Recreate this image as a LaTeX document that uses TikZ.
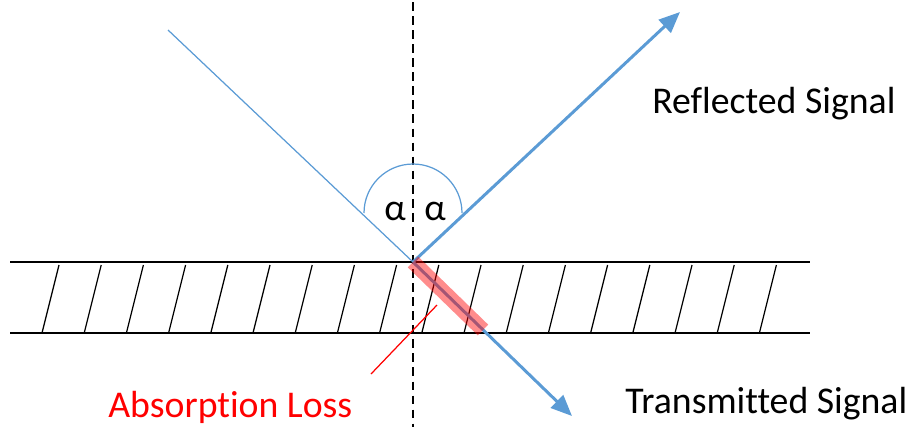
\documentclass[tikz,border=0pt]{standalone}
\usepackage{fontspec}
\setmainfont{Carlito}[Ligatures=NoCommon]
\usetikzlibrary{arrows.meta}
\definecolor{rayblue}{HTML}{5B9BD5}
\tikzset{
    label text/.style={inner sep=0pt, anchor=base west, font=\fontsize{21.5}{26}\selectfont},
    ray/.style={rayblue, line width=1.7pt, -{Triangle[length=12pt,width=10pt]}}
}
\begin{document}
\begin{tikzpicture}[x=0.02cm, y=-0.02cm]
    % Picture frame in pixel units
    \useasboundingbox (0,0) rectangle (911,427);
    \def\slabtop{262}
    \def\slabbot{333}

    % Points of the rays
    \coordinate (src) at (168,30);
    \coordinate (hit) at (413,\slabtop);
    \coordinate (refl) at (680,12);
    \coordinate (trans) at (572,416);
    \coordinate (absend) at (483,330);

    % Material slab with hatching
    \draw[line width=0.8pt] (10,\slabtop) -- (810,\slabtop);
    \draw[line width=0.8pt] (10,\slabbot) -- (810,\slabbot);
    \foreach \i in {0,...,17}
        \draw[line width=0.7pt] (42+42.2*\i,\slabbot) -- (59+42.2*\i,265);

    % Normal
    \draw[dashed, line width=0.8pt, dash pattern=on 5pt off 3pt] (413,2) -- (413,427);

    % Incident, reflected and transmitted rays
    \draw[rayblue, line width=0.7pt] (src) -- (hit);
    \draw[ray] (hit) -- (refl);
    \draw[ray] (hit) -- (trans);

    % Absorption inside the slab
    \draw[red, opacity=0.45, line width=8.5pt] (hit) -- (absend);

    % Angle arc and labels
    \draw[rayblue, line width=0.7pt] (364,213) arc[start angle=180, end angle=360, radius=49];
    \node[label text, anchor=base] (alphaL) at (395,220) {α};
    \node[label text, anchor=base] (alphaR) at (435,220) {α};

    % Signal labels
    \node[label text] (reflected) at (652,113) {Reflected Signal};
    \node[label text] (transmitted) at (625,413) {Transmitted Signal};
    \node[label text, red] (absorption) at (108,417) {Absorption Loss};
    \coordinate (abstip) at (437,305);
    \coordinate (absfoot) at (371,374);
    \draw[red, line width=0.7pt] (absfoot) -- (abstip);
\end{tikzpicture}
\end{document}
